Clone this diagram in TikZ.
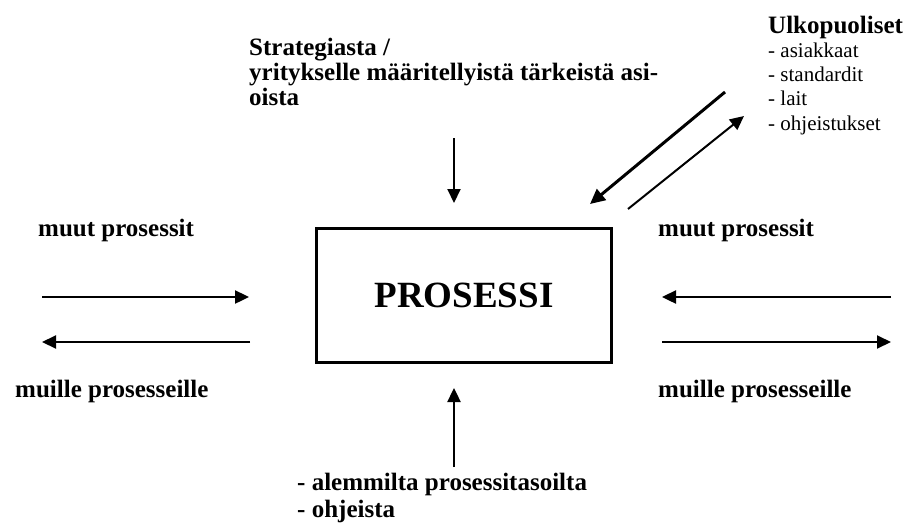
\documentclass[tikz,border=0pt]{standalone}
\usepackage{fontspec}
\setmainfont{Liberation Serif}
\usetikzlibrary{arrows.meta}
\begin{document}
\begin{tikzpicture}[x=1pt,y=-1pt,
  lbl/.style={inner sep=0pt, anchor=base west, align=left,
    font=\fontsize{25}{25}\selectfont\bfseries},
  head/.style={inner sep=0pt, anchor=base west,
    font=\fontsize{25}{25}\selectfont\bfseries},
  item/.style={inner sep=0pt, anchor=base west, align=left,
    font=\fontsize{21}{24.3}\selectfont},
  procbox/.style={draw, line width=3.3pt, minimum width=294.7pt,
    minimum height=133.7pt, inner sep=0pt,
    font=\fontsize{37}{40}\selectfont\bfseries},
  flow/.style={line width=2.4pt, -{Triangle[length=14pt,width=13pt]}},
  thinflow/.style={line width=2pt, -{Triangle[length=14pt,width=13pt]}}]
\useasboundingbox (0,0) rectangle (911,531);

% central process box
\node[procbox] (proc) at (464,295.5) {PROSESSI};

% labels (multi-line nodes are placed by the baseline of their last line)
\node[lbl] (strat) at (249,105) {Strategiasta /\\yritykselle määritellyistä tärkeistä asi-\\oista};
\node[head] (ulko) at (768,33) {Ulkopuoliset};
\node[item] (ulkolist) at (768,130) {- asiakkaat\\- standardit\\- lait\\- ohjeistukset};
\node[lbl] (lmuut) at (38,236) {muut prosessit};
\node[lbl] (rmuut) at (658,236) {muut prosessit};
\node[lbl] (lmuille) at (15,397) {muille prosesseille};
\node[lbl] (rmuille) at (658,397) {muille prosesseille};
\node[lbl, font=\fontsize{25}{26.5}\selectfont\bfseries] (alem) at (297,517) {- alemmilta prosessitasoilta\\- ohjeista};

% arrow end points
\coordinate (topS) at (454,138);  \coordinate (topE) at (454,203);
\coordinate (botS) at (454,467);  \coordinate (botE) at (454,388);
\coordinate (l1S) at (42,297);    \coordinate (l1E) at (249,297);
\coordinate (l2S) at (250,342);   \coordinate (l2E) at (42,342);
\coordinate (r1S) at (891,297);   \coordinate (r1E) at (662,297);
\coordinate (r2S) at (662,342);   \coordinate (r2E) at (891,342);
\coordinate (d1S) at (725,92);    \coordinate (d1E) at (590,204);
\coordinate (d2S) at (628,209);   \coordinate (d2E) at (744,116);

% connectors
\draw[thinflow] (topS) -- (topE);
\draw[flow] (botS) -- (botE);
\draw[flow] (l1S) -- (l1E);
\draw[thinflow] (l2S) -- (l2E);
\draw[flow] (r1S) -- (r1E);
\draw[thinflow] (r2S) -- (r2E);
\draw[line width=3pt, -{Triangle[length=15pt,width=14pt]}] (d1S) -- (d1E);
\draw[thinflow] (d2S) -- (d2E);
\end{tikzpicture}
\end{document}
